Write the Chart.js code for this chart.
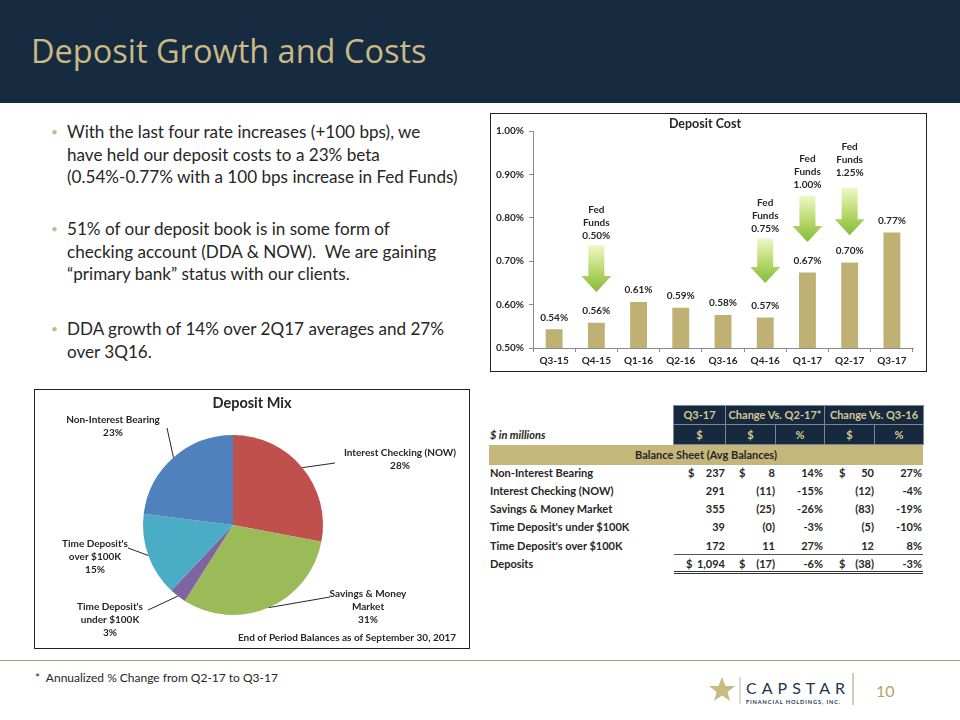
<!DOCTYPE html>
<html><head><meta charset="utf-8">
<script src="https://cdn.jsdelivr.net/npm/chart.js@4.4.1/dist/chart.umd.min.js"></script>
<style>
body{margin:0;width:960px;height:720px;position:relative;background:#fff;font-family:Lato,sans-serif;overflow:hidden;color:#262626}
#hdr{position:absolute;left:0;top:0;width:960px;height:103px;background:#162a40}
#hdr h1{position:absolute;left:31px;top:28px;margin:0;font:400 32.5px "Open Sans",sans-serif;color:#c9b983;letter-spacing:0px}
.bul{position:absolute;left:67px;font-size:17.1px;line-height:22.5px;color:#262626;white-space:nowrap}
.bul:before{content:"•";position:absolute;left:-16px;top:0;color:#c9b983;font-size:12px}
.box{position:absolute;border:1px solid #222;box-sizing:border-box;background:#fff}
canvas{position:absolute}
.cell{position:absolute;font:700 11px Lato,sans-serif;line-height:18px;white-space:nowrap}
.hd{position:absolute;background:#17293f;color:#d6c88f;font:700 11px Lato,sans-serif;text-align:center;box-sizing:border-box;border:1px solid #7d8694}
#foot{position:absolute;left:0;top:660px;width:960px;height:1px;background:#a69a72}
#note{position:absolute;left:35px;top:670px;font-size:12px;color:#262626;white-space:pre}
#pg{position:absolute;left:876px;top:681px;font-size:16px;color:#b3a46e}
</style></head>
<body>
<div id="hdr"><h1>Deposit Growth and Costs</h1></div>
<div class="bul" style="top:121px">With the last four rate increases (+100 bps), we<br>have held our deposit costs to a 23% beta<br>(0.54%-0.77% with a 100 bps increase in Fed Funds)</div>
<div class="bul" style="top:218px">51% of our deposit book is in some form of<br>checking account (DDA &amp; NOW).&nbsp; We are gaining<br>“primary bank” status with our clients.</div>
<div class="bul" style="top:318px">DDA growth of 14% over 2Q17 averages and 27%<br>over 3Q16.</div>

<div class="box" style="left:490px;top:113px;width:437px;height:259px"></div>
<canvas id="bar" width="435" height="257" style="left:491px;top:114px;width:435px;height:257px"></canvas>

<div class="box" style="left:34px;top:389px;width:436px;height:260px"></div>
<canvas id="pie" width="434" height="258" style="left:35px;top:390px;width:434px;height:258px"></canvas>

<div id="tbl"></div>

<div id="foot"></div>
<div id="note">*  Annualized % Change from Q2-17 to Q3-17</div>
<svg style="position:absolute;left:708px;top:672px" width="150" height="36">
 <polygon points="14,5 17.5,14 27,14 19.5,20 22,29 14,23.5 6,29 8.5,20 1,14 10.5,14" fill="#c9b983"/>
 <line x1="32" y1="5" x2="32" y2="32" stroke="#b9b9b9" stroke-width="1"/>
 <line x1="145" y1="1" x2="145" y2="33" stroke="#a69a72" stroke-width="1"/>
 <text x="38" y="22" font-family="Lato" font-size="16" letter-spacing="5" fill="#1d3550">CAPSTAR</text>
 <text x="38" y="32" font-family="Lato" font-weight="700" font-size="5.6" letter-spacing="0.9" fill="#1d3550">FINANCIAL HOLDINGS, INC.</text>
</svg>
<div id="pg">10</div>

<script>
// ---------- DATA ----------
const quarters = ['Q3-15','Q4-15','Q1-16','Q2-16','Q3-16','Q4-16','Q1-17','Q2-17','Q3-17'];
const depositCost = [0.543,0.558,0.606,0.593,0.576,0.570,0.674,0.697,0.766];
const costTicks = [0.5,0.6,0.7,0.8,0.9,1.0];
const fedFundsQuarter = ['Q4-15','Q4-16','Q1-17','Q2-17'];
const fedFundsRate = ['0.50%','0.75%','1.00%','1.25%'];

const mixLabels = ['Interest Checking (NOW)','Savings & Money Market',"Time Deposit's under $100K","Time Deposit's over $100K",'Non-Interest Bearing'];
const mixPct = [28,31,3,15,23];

const rowLabels = ['Non-Interest Bearing','Interest Checking (NOW)','Savings & Money Market',"Time Deposit's under $100K","Time Deposit's over $100K",'Deposits'];
const balQ317 = [237,291,355,39,172,1094];
const chgQ2Amt = [8,-11,-25,-0.4,11,-17];
const chgQ2Pct = [14,-15,-26,-3,27,-6];
const chgQ3Amt = [50,-12,-83,-5,12,-38];
const chgQ3Pct = [27,-4,-19,-10,8,-3];

// ---------- BAR CHART ----------
const TXT = '#262626';
const FB = (s)=>({family:'Lato',weight:'bold',size:s});
const arrowGeom = [ // annotation geometry in value units
  {top:0.737,bottom:0.629,labelY:0.758},
  {top:0.753,bottom:0.650,labelY:0.774},
  {top:0.850,bottom:0.744,labelY:0.876},
  {top:0.869,bottom:0.760,labelY:0.903}
];
const barDeco = {
  id:'barDeco',
  afterDatasetsDraw(c){
    const ctx=c.ctx, xs=c.scales.x, ys=c.scales.y;
    ctx.save();
    ctx.fillStyle=TXT; ctx.font='bold 12.5px Lato'; ctx.textAlign='center'; ctx.textBaseline='middle';
    ctx.fillText('Deposit Cost', 214, 10);
    ctx.font='bold 10px Lato';
    c.getDatasetMeta(0).data.forEach((b,i)=>{
      ctx.fillText(depositCost[i].toFixed(2)+'%', b.x, b.y-12);
    });
    fedFundsQuarter.forEach((q,i)=>{
      const g=arrowGeom[i];
      const x=xs.getPixelForValue(quarters.indexOf(q));
      const t=ys.getPixelForValue(g.top), bt=ys.getPixelForValue(g.bottom);
      const hh=16, sw=8, hw=15;
      const grad=ctx.createLinearGradient(0,t,0,bt);
      grad.addColorStop(0,'#eef8c4'); grad.addColorStop(0.55,'#b6d86a'); grad.addColorStop(1,'#86b93a');
      ctx.beginPath();
      ctx.moveTo(x-sw,t); ctx.lineTo(x+sw,t); ctx.lineTo(x+sw,bt-hh); ctx.lineTo(x+hw,bt-hh);
      ctx.lineTo(x,bt); ctx.lineTo(x-hw,bt-hh); ctx.lineTo(x-sw,bt-hh); ctx.closePath();
      ctx.fillStyle=grad; ctx.fill();
      ctx.fillStyle=TXT;
      const ly=ys.getPixelForValue(g.labelY);
      ['Fed','Funds',fedFundsRate[i]].forEach((s,k)=>ctx.fillText(s,x,ly-(2-k)*13));
    });
    ctx.restore();
  }
};
new Chart(document.getElementById('bar'),{
  type:'bar',
  data:{labels:quarters,datasets:[{data:depositCost,backgroundColor:'#bfb074',barPercentage:0.4,categoryPercentage:1}]},
  options:{
    responsive:false,animation:false,
    layout:{padding:{top:17,right:13,left:0,bottom:0}},
    plugins:{legend:{display:false},tooltip:{enabled:false}},
    scales:{
      x:{grid:{drawOnChartArea:false,tickLength:4,color:'#8a8a8a'},border:{color:'#8a8a8a'},
         ticks:{color:TXT,font:FB(10),padding:3,maxRotation:0},
         afterFit(s){s.height=23;}},
      y:{min:0.5,max:1.0,grid:{drawOnChartArea:false,tickLength:4,color:'#8a8a8a'},border:{color:'#8a8a8a'},
         afterBuildTicks(s){s.ticks=costTicks.map(v=>({value:v}));},
         ticks:{color:TXT,font:FB(10),padding:5,callback:v=>(+v).toFixed(2)+'%'},
         afterFit(s){s.width=42;}}
    }
  },
  plugins:[barDeco]
});

// ---------- PIE CHART ----------
const pieLayout = [ // label placement (canvas px), wrap = words on first lines
  {x:365,y:63,wrap:[3],lx:300,ly:73},
  {x:333,y:204,wrap:[3,1],lx:295,ly:207},
  {x:75,y:217,wrap:[2,2],lx:113,ly:220},
  {x:60,y:154,wrap:[2,2],lx:93,ly:158},
  {x:78,y:30,wrap:[3],lx:132,ly:38}
];
function wrapWords(s,w){const ws=s.split(' ');const out=[];let i=0;w.forEach(n=>{out.push(ws.slice(i,i+n).join(' '));i+=n;});if(i<ws.length)out.push(ws.slice(i).join(' '));return out.filter(x=>x);}
const pieDeco = {
  id:'pieDeco',
  afterDatasetsDraw(c){
    const ctx=c.ctx; ctx.save();
    ctx.fillStyle=TXT; ctx.textAlign='center'; ctx.textBaseline='middle';
    ctx.font='bold 14.5px Lato'; ctx.fillText('Deposit Mix',217,13);
    ctx.font='bold 10px Lato'; ctx.fillText('End of Period Balances as of September 30, 2017',312,248);
    ctx.strokeStyle='#262626'; ctx.lineWidth=1;
    c.getDatasetMeta(0).data.forEach((a,i)=>{
      const L=pieLayout[i];
      const m=(a.startAngle+a.endAngle)/2;
      const ex=a.x+Math.cos(m)*a.outerRadius, ey=a.y+Math.sin(m)*a.outerRadius;
      ctx.beginPath(); ctx.moveTo(ex,ey); ctx.lineTo(L.lx,L.ly); ctx.stroke();
      const lines=wrapWords(mixLabels[i],L.wrap).concat([mixPct[i]+'%']);
      lines.forEach((s,k)=>ctx.fillText(s,L.x,L.y+k*12.7));
    });
    ctx.restore();
  }
};
new Chart(document.getElementById('pie'),{
  type:'pie',
  data:{labels:mixLabels,datasets:[{data:mixPct,backgroundColor:['#c0504d','#9bbb59','#8064a2','#4bacc6','#4f81bd'],borderWidth:0}]},
  options:{responsive:false,animation:false,
    layout:{padding:{left:108,right:146,top:45,bottom:33}},
    plugins:{legend:{display:false},tooltip:{enabled:false}}},
  plugins:[pieDeco]
});

// ---------- TABLE ----------
const tbl=document.getElementById('tbl');
function el(cls,style,txt){const d=document.createElement('div');d.className=cls;d.style.cssText=style;d.textContent=txt;tbl.appendChild(d);return d;}
// header
el('hd','left:673px;top:405px;width:53px;height:20px;line-height:18px','Q3-17');
el('hd','left:725px;top:405px;width:100px;height:20px;line-height:18px','Change Vs. Q2-17*');
el('hd','left:824px;top:405px;width:100px;height:20px;line-height:18px','Change Vs. Q3-16');
[['$',673,53],['$',725,51],['%',775,50],['$',824,51],['%',874,50]].forEach(([t,x,w])=>
  el('hd',`left:${x}px;top:424px;width:${w}px;height:21px;line-height:19px`,t));
el('cell','left:490px;top:426px;font-style:italic','$ in millions');
el('cell','left:489px;top:445px;width:434px;height:20px;line-height:20px;background:#c5b67c;text-align:center;color:#262626','Balance Sheet (Avg Balances)');
const fmtAmt=v=>v<0?'('+Math.round(Math.abs(v)).toLocaleString('en-US')+')':Math.round(v).toLocaleString('en-US');
const fmtPct=v=>v+'%';
const rowY=[464,482,500,518,537,555];
rowLabels.forEach((lab,i)=>{
  const y=rowY[i];
  el('cell',`left:490px;top:${y}px`,lab);
  const dollar=(i===0||i===rowLabels.length-1);
  if(dollar){
    el('cell',`left:${i===0?688:686}px;top:${y}px`,'$');
    el('cell',`left:739px;top:${y}px`,'$');
    el('cell',`left:839px;top:${y}px`,'$');
  }
  el('cell',`right:${960-725}px;top:${y}px`,fmtAmt(balQ317[i]));
  el('cell',`right:${960-775}px;top:${y}px`,fmtAmt(chgQ2Amt[i]));
  el('cell',`right:${960-823}px;top:${y}px`,fmtPct(chgQ2Pct[i]));
  el('cell',`right:${960-874}px;top:${y}px`,fmtAmt(chgQ3Amt[i]));
  el('cell',`right:${960-922}px;top:${y}px`,fmtPct(chgQ3Pct[i]));
});
el('cell','left:674px;top:554px;width:249px;height:1px;background:#555','');
el('cell','left:674px;top:571px;width:249px;height:1px;background:#333','');
el('cell','left:674px;top:573px;width:249px;height:1px;background:#333','');
</script>
</body></html>
